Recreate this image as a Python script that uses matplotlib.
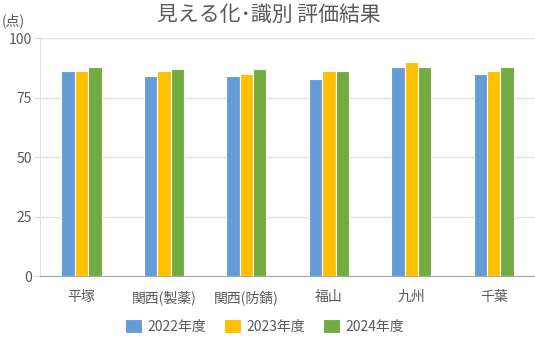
import matplotlib.pyplot as plt
import numpy as np

plt.rcParams["font.family"] = ["Noto Sans CJK JP", "DejaVu Sans"]

categories = ["平塚", "関西(製薬)", "関西(防錆)", "福山", "九州", "千葉"]
years = ["2022年度", "2023年度", "2024年度"]
scores_2022 = [86, 84, 84, 83, 88, 85]
scores_2023 = [86, 86, 85, 86, 90, 86]
scores_2024 = [88, 87, 87, 86, 88, 88]
yticks = [0, 25, 50, 75, 100]

colors = ["#659BD6", "#FFC000", "#72AC41"]
text_color = "#595959"

fig = plt.figure(figsize=(5.35, 3.40), dpi=100)
ax = fig.add_axes([0.075, 0.188, 0.925, 0.7])

x = np.arange(len(categories))
width = 0.163
for i, (vals, label) in enumerate(zip([scores_2022, scores_2023, scores_2024], years)):
    ax.bar(x + (i - 1) * width, vals, width, color=colors[i], label=label,
           edgecolor="white", linewidth=0.8, zorder=3)

ax.set_xlim(-0.5, len(categories) - 0.5)
ax.set_ylim(0, 100)
ax.set_yticks(yticks)
ax.set_xticks(x)
ax.set_xticklabels(categories)
ax.grid(axis="y", color="#E0E0E0", linewidth=1, zorder=0)

for side in ["top", "right"]:
    ax.spines[side].set_visible(False)
ax.spines["left"].set_color("#E0E0E0")
ax.spines["bottom"].set_color("#A6A6A6")
ax.tick_params(axis="y", length=4, color="#D9D9D9", labelsize=10, labelcolor=text_color, pad=2)
ax.tick_params(axis="x", length=0, labelsize=10, labelcolor=text_color, pad=10)

fig.text(0.503, 0.955, "見える化･識別 評価結果", ha="center", va="center",
         fontsize=15, color=text_color)
fig.text(0.004, 0.94, "(点)", ha="left", va="center", fontsize=10, color=text_color)

fig.legend(loc="center", bbox_to_anchor=(0.495, 0.04), ncol=3, frameon=False,
           fontsize=10, labelcolor=text_color, handlelength=1.2, handleheight=1.2,
           handletextpad=0.4, columnspacing=1.3)

fig.savefig("out.png", dpi=100)
